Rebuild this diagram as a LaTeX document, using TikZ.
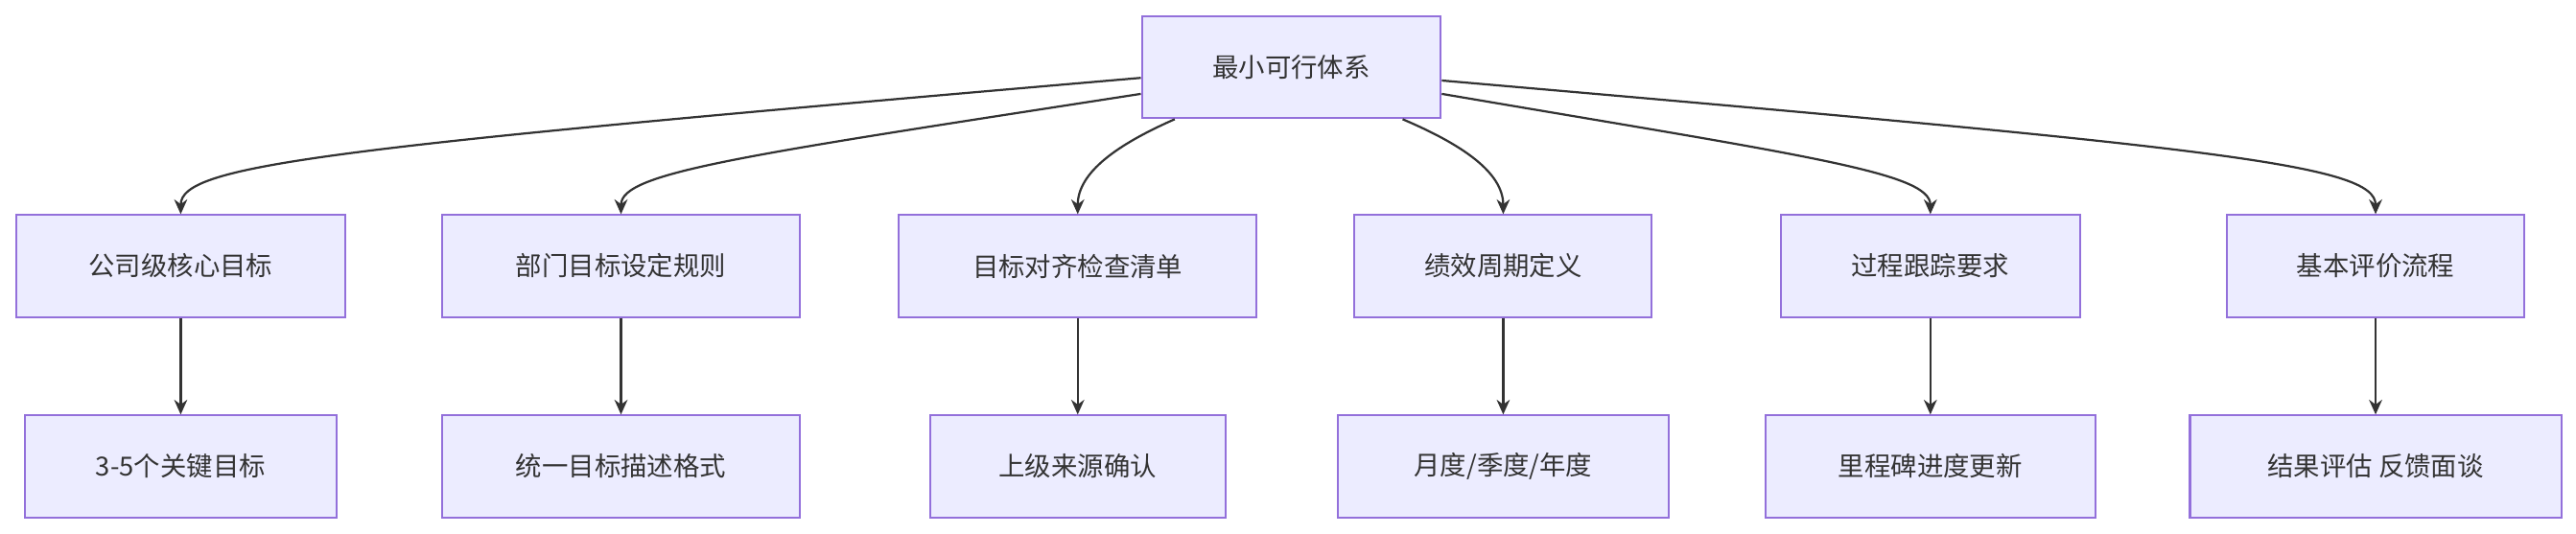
\documentclass[tikz,border=0pt]{standalone}
\usepackage{fontspec}
\setmainfont{Noto Sans CJK SC}
\usetikzlibrary{arrows.meta}
\definecolor{boxfill}{HTML}{ECECFF}
\definecolor{boxline}{HTML}{9370DB}
\definecolor{edge}{HTML}{333333}
\tikzset{
  box/.style={draw=boxline,fill=boxfill,line width=1.2pt,inner sep=0pt,minimum height=62pt,font=\fontsize{16pt}{19pt}\selectfont,text=edge},
  conn/.style={draw=edge,line width=1.3pt,-{Stealth[length=9pt,width=8pt]}}
}
\begin{document}
\begin{tikzpicture}[x=1pt,y=1pt]
\useasboundingbox (0,0) rectangle (1568,-325);
\node[box,minimum width=182pt] (root) at (786,-41) {最小可行体系};
\node[box,minimum width=200pt] (a1) at (110,-162) {公司级核心目标};
\node[box,minimum width=218pt] (a2) at (378,-162) {部门目标设定规则};
\node[box,minimum width=218pt] (a3) at (656,-162) {目标对齐检查清单};
\node[box,minimum width=181pt] (a4) at (915,-162) {绩效周期定义};
\node[box,minimum width=182pt] (a5) at (1175,-162) {过程跟踪要求};
\node[box,minimum width=181pt] (a6) at (1446,-162) {基本评价流程};
\node[box,minimum width=190pt] (b1) at (110,-284) {3-5个关键目标};
\node[box,minimum width=218pt] (b2) at (378,-284) {统一目标描述格式};
\node[box,minimum width=180pt] (b3) at (656,-284) {上级来源确认};
\node[box,minimum width=201pt] (b4) at (915,-284) {月度/季度/年度};
\node[box,minimum width=201pt] (b5) at (1175,-284) {里程碑进度更新};
\node[box,minimum width=226pt] (b6) at (1446,-284) {结果评估 反馈面谈};
\draw[conn] (root.184.4) .. controls (200,-90) and (110,-100) .. (a1.north);
\draw[conn] (root.190) .. controls (450,-95) and (378,-105) .. (a2.north);
\draw[conn] (root.204.5) .. controls (680,-88) and (656,-105) .. (a3.north);
\draw[conn] (root.335) .. controls (890,-88) and (915,-105) .. (a4.north);
\draw[conn] (root.350) .. controls (1100,-95) and (1175,-105) .. (a5.north);
\draw[conn] (root.355.6) .. controls (1350,-90) and (1446,-100) .. (a6.north);
\foreach \i in {1,...,6} \draw[conn] (a\i) -- (b\i);
\end{tikzpicture}
\end{document}
